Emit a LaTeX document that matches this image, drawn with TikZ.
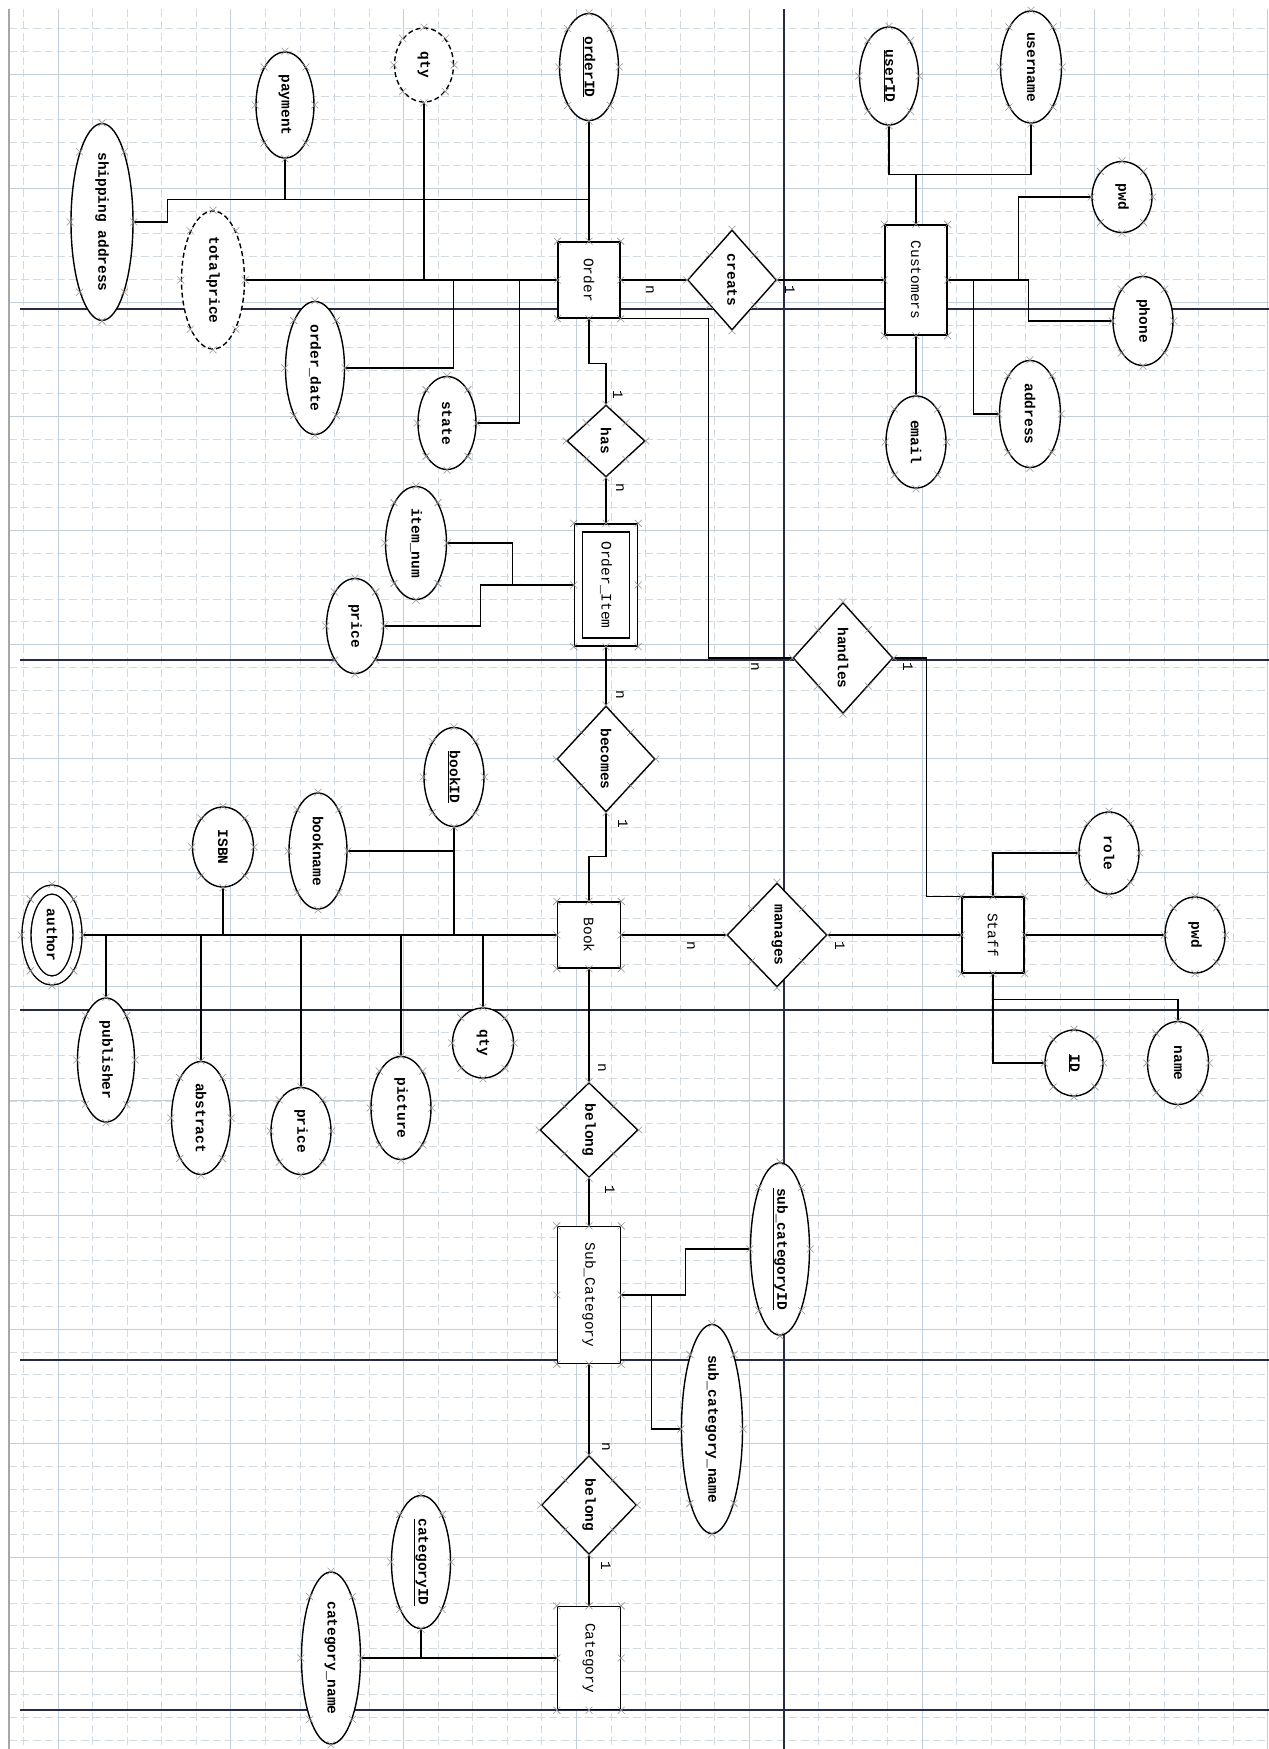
\documentclass[tikz,border=0pt]{standalone}
\usepackage{fontspec}
\setmainfont{Liberation Mono}
\usetikzlibrary{shapes.geometric}
\definecolor{ERGrid}{RGB}{194,206,216}
\definecolor{ERGridLight}{RGB}{210,218,226}
\definecolor{ERPage}{RGB}{38,42,68}
\newcommand{\vtxt}[1]{\rotatebox{-90}{#1}}
\newcommand{\erfont}{\fontsize{14.5}{16}\selectfont}
\tikzset{sz/.style n args={2}{minimum width=#1pt,minimum height=#2pt}}

\begin{document}
\begin{tikzpicture}[x=1pt,y=-1pt,font=\erfont,
ent/.style={rectangle,draw,line width=1.4pt,fill=white,inner sep=0pt},
weak/.style={ent,double,double distance=6.6pt,outer sep=4.7pt},
rel/.style={diamond,draw,line width=1.4pt,fill=white,inner sep=0pt,font=\erfont\bfseries},
attr/.style={ellipse,draw,line width=1.4pt,fill=white,inner sep=0pt,font=\erfont\bfseries},
derived/.style={attr,dash pattern=on 5pt off 3pt},
multi/.style={attr,double,double distance=7.6pt,outer sep=5.2pt},
card/.style={inner sep=0pt},
link/.style={line width=1.3pt},
gridmajor/.style={draw=ERGrid,line width=1pt},
gridminor/.style={draw=ERGridLight,line width=0.8pt,dash pattern=on 8pt off 4pt},
pageline/.style={draw=ERPage,line width=2pt},
xmark/.style={draw=gray!85,line width=0.6pt}]
\useasboundingbox (0,0) rectangle (1269,1749);
\fill[white] (0,0) rectangle (1269,1749);
% grid paper
\begin{scope}
\clip (9,9) rectangle (1269,1749);
\foreach \i in {0,...,36} \draw[gridminor] ({23.44+\i*34.56},9) -- ++(0,1740);
\foreach \i in {0,...,75} \draw[gridminor] (9,{28.4+\i*22.82}) -- ++(1260,0);
\foreach \i in {0,...,7} \draw[gridmajor] ({58+\i*172.8},9) -- ++(0,1740);
\foreach \i in {0,...,14} \draw[gridmajor] (9,{74+\i*114.1}) -- ++(1260,0);
\end{scope}
\draw[gray!70,line width=1.5pt] (9,9) -- (9,1749);
% page breaks
\foreach \y in {309,660,1010,1360,1710} \draw[pageline] (20,\y) -- (1269,\y);
\draw[pageline] (784,9) -- (784,1749);

% entities and relationships
\node[ent,sz={62}{76}] (order) at (589,280) {\vtxt{Order}};
\node[rel,sz={89}{100}] (creats) at (732,280) {\vtxt{creats}};
\node[ent,sz={62}{110}] (cust) at (916,280) {\vtxt{Customers}};
\node[rel,sz={78}{72}] (has) at (606,441) {\vtxt{has}};
\node[weak,sz={55}{114}] (oitem) at (606,585) {\vtxt{Order\_Item}};
\node[rel,sz={100}{111}] (handles) at (843,658) {\vtxt{handles}};
\node[rel,sz={98}{106}] (becomes) at (606,759) {\vtxt{becomes}};
\node[ent,sz={63}{66}] (book) at (589,935) {\vtxt{Book}};
\node[rel,sz={100}{104}] (manages) at (777,935) {\vtxt{manages}};
\node[ent,sz={62}{76}] (staff) at (993,935) {\vtxt{Staff}};
\node[rel,sz={98}{95}] (belong1) at (589,1130) {\vtxt{belong}};
\node[ent,sz={63}{137}] (subcat) at (589,1295) {\vtxt{Sub\_Category}};
\node[rel,sz={95}{99}] (belong2) at (589,1505) {\vtxt{belong}};
\node[ent,sz={63}{103}] (cat) at (589,1658) {\vtxt{Category}};

% attributes
\node[attr,sz={59}{107}] (orderid) at (589,67) {\vtxt{\underline{orderID}}};
\node[attr,sz={58}{106}] (payment) at (285,105) {\vtxt{payment}};
\node[derived,sz={59}{74}] (oqty) at (424,65) {\vtxt{qty}};
\node[attr,sz={62}{187}] (ship) at (102,222) {\vtxt{shipping address}};
\node[derived,sz={63}{138}] (total) at (213,280) {\vtxt{totalprice}};
\node[attr,sz={59}{133}] (odate) at (315,368) {\vtxt{order\_date}};
\node[attr,sz={58}{93}] (state) at (447,423) {\vtxt{state}};
\node[attr,sz={61}{113}] (itemnum) at (416,543) {\vtxt{item\_num}};
\node[attr,sz={57}{95}] (iprice) at (355,626) {\vtxt{price}};
\node[attr,sz={59}{98}] (userid) at (889,76) {\vtxt{\underline{userID}}};
\node[attr,sz={61}{112}] (uname) at (1031,67) {\vtxt{username}};
\node[attr,sz={60}{71}] (cpwd) at (1122,197) {\vtxt{pwd}};
\node[attr,sz={60}{89}] (phone) at (1143,321) {\vtxt{phone}};
\node[attr,sz={61}{107}] (addr) at (1030,414) {\vtxt{address}};
\node[attr,sz={60}{92}] (email) at (916,442) {\vtxt{email}};
\node[attr,sz={60}{82}] (role) at (1109,853) {\vtxt{role}};
\node[attr,sz={60}{76}] (spwd) at (1195,935) {\vtxt{pwd}};
\node[attr,sz={58}{66}] (sid) at (1074,1063) {\vtxt{\underline{ID}}};
\node[attr,sz={61}{83}] (sname) at (1178,1063) {\vtxt{name}};
\node[multi,sz={51}{91}] (author) at (52,935) {\vtxt{author}};
\node[attr,sz={60}{99}] (bookid) at (454,777) {\vtxt{\underline{bookID}}};
\node[attr,sz={58}{116}] (bname) at (318,851) {\vtxt{bookname}};
\node[attr,sz={61}{80}] (isbn) at (223,847) {\vtxt{ISBN}};
\node[attr,sz={57}{124}] (publisher) at (106,1060) {\vtxt{publisher}};
\node[attr,sz={59}{113}] (abstract) at (201,1118) {\vtxt{abstract}};
\node[attr,sz={60}{87}] (bprice) at (301,1131) {\vtxt{price}};
\node[attr,sz={60}{103}] (picture) at (401,1108) {\vtxt{picture}};
\node[attr,sz={61}{70}] (bqty) at (483,1043) {\vtxt{qty}};
\node[attr,sz={59}{170}] (subcatid) at (780,1249) {\vtxt{\underline{sub\_categoryID}}};
\node[attr,sz={61}{194}] (subcatname) at (712,1429) {\vtxt{sub\_category\_name}};
\node[attr,sz={59}{133}] (catid) at (421,1562) {\vtxt{\underline{categoryID}}};
\node[attr,sz={59}{172}] (catname) at (331,1658) {\vtxt{category\_name}};

% order links
\path (order.north) ++(0,-42) coordinate (oj);
\draw[link] (orderid) -- (order);
\draw[link] (payment.south) |- (oj);
\draw[link] (ship.east) -- ++(34,0) |- (oj);
\draw[link] (oqty.south) |- (order.west);
\draw[link] (total) -- (order);
\draw[link] (odate.east) -- ++(108,0) |- (order.west);
\draw[link] (state.east) -- ++(43,0) |- (order.west);
\draw[link] (order) -- (creats) -- (cust);
\draw[link] (order.south) -- ++(0,45) -| (has.north);
\draw[link] (has) -- (oitem) -- (becomes);
\draw[link] (itemnum.east) -- ++(65,0) |- (oitem.west);
\draw[link] (iprice.east) -- ++(96,0) |- (oitem.west);
\draw[link] (becomes.south) -- ++(0,44) -| (book.north);
\draw[link] (book) -- (manages) -- (staff);
\draw[link] (order.south east) -- ++(88,0) |- (handles.west);
\draw[link] (handles.east) -- ++(33,0) |- (staff.north west);
\draw[link] (book) -- (belong1) -- (subcat) -- (belong2) -- (cat);
% customer links
\path (cust.north) ++(0,-50) coordinate (cj);
\draw[link] (userid.south) |- (cj) -| (uname.south);
\draw[link] (cj) -- (cust.north);
\draw[link] (cust.east) -- ++(71,0) |- (cpwd.west);
\draw[link] (cust.east) -- ++(81,0) |- (phone.west);
\draw[link] (cust.east) -- ++(26,0) |- (addr.west);
\draw[link] (cust) -- (email);
% staff links
\draw[link] (staff.north) |- (role.west);
\draw[link] (staff) -- (spwd);
\draw[link] (staff.south) |- (sid.west);
\draw[link] (staff.south) -- ++(0,26) -| (sname.north);
% book links
\draw[link] (author) -- (book);
\foreach \a in {bookid,isbn} \draw[link] (\a.south) |- (book.west);
\foreach \a in {publisher,abstract,bprice,picture,bqty} \draw[link] (\a.north) |- (book.west);
\draw[link] (bname.east) -| (bookid.south);
% category links
\draw[link] (subcat.east) -- ++(64,0) |- (subcatid.west);
\draw[link] (subcat.east) -- ++(30,0) |- (subcatname.west);
\draw[link] (catid.south) |- (cat.west);
\draw[link] (catname) -- (cat);

% cardinalities
\foreach \x/\y/\t [count=\i] in {650/290/n,790/290/1,618/395/1,620/488/n,620/695/n,623/824/1,691/946/n,840/946/1,755/667/n,908/667/1,602/1068/n,610/1190/1,606/1447/n,606/1566/1}
  \node[card] (card\i) at (\x,\y) {\vtxt{\t}};

% connection handles
\foreach \n in {order,creats,cust,has,oitem,handles,becomes,book,manages,staff,belong1,subcat,belong2,cat,orderid,payment,oqty,ship,total,odate,state,itemnum,iprice,userid,uname,cpwd,phone,addr,email,role,spwd,sid,sname,author,bookid,bname,isbn,publisher,abstract,bprice,picture,bqty,subcatid,subcatname,catid,catname}
  \foreach \a in {north,south,east,west,north east,north west,south east,south west}
    \draw[xmark] (\n.\a) +(-3.5,-3.5) -- +(3.5,3.5) +(-3.5,3.5) -- +(3.5,-3.5);
\end{tikzpicture}
\end{document}
